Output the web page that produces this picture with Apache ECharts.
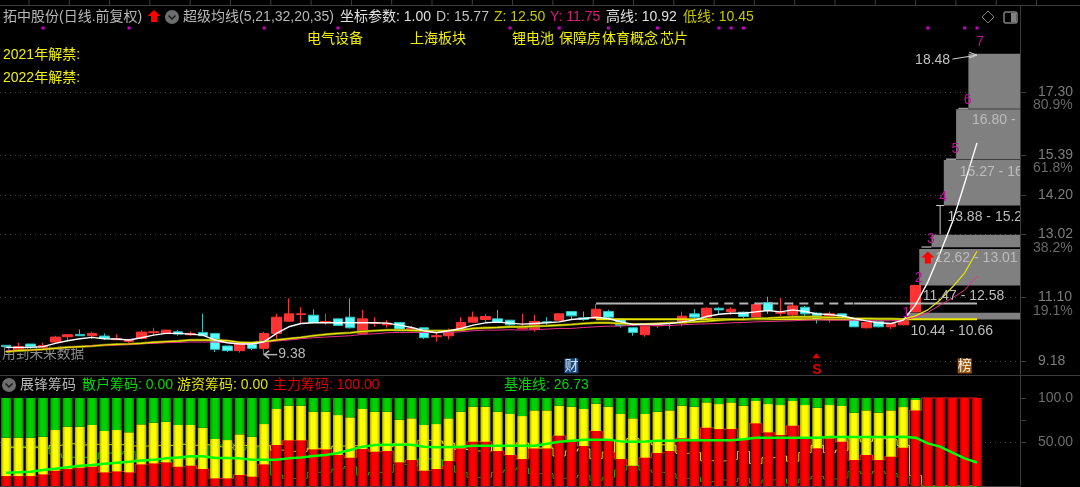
<!DOCTYPE html>
<html>
<head>
<meta charset="utf-8">
<style>
  html, body { margin: 0; padding: 0; background: #000; }
  #chart { width: 1080px; height: 487px; }
</style>
<script src="https://cdn.jsdelivr.net/npm/echarts@6/dist/echarts.min.js"></script>
</head>
<body>
<div id="chart"></div>
<script>
// 83 day slots on the axis, the last 3 are empty
var categories = Array.from({ length: 83 }, function (_, i) { return i; });

// [open, close, low, high]
var candles = [
  [9.66, 9.62, 9.62, 9.66], [9.52, 9.62, 9.52, 9.74], [9.70, 9.62, 9.56, 9.70], [9.60, 9.65, 9.55, 9.74],
  [9.76, 9.91, 9.72, 9.95], [9.92, 9.98, 9.82, 9.98], [9.99, 9.95, 9.95, 10.14], [9.95, 10.02, 9.85, 10.07],
  [9.94, 9.87, 9.82, 10.02], [9.83, 9.86, 9.82, 9.99], [9.78, 9.82, 9.70, 9.84], [9.87, 10.06, 9.84, 10.12],
  [10.04, 10.07, 9.97, 10.19], [10.02, 10.12, 10.02, 10.12], [10.07, 10.00, 9.95, 10.12], [9.98, 10.02, 9.95, 10.08],
  [10.05, 9.95, 9.95, 10.61], [10.02, 9.54, 9.46, 10.02], [9.64, 9.50, 9.46, 9.64], [9.50, 9.70, 9.44, 9.70],
  [9.69, 9.57, 9.52, 9.69], [9.57, 10.02, 9.38, 10.07], [10.02, 10.51, 9.82, 10.61], [10.39, 10.61, 10.37, 11.08],
  [10.59, 10.61, 10.32, 10.81], [10.57, 10.35, 10.35, 10.75], [10.35, 10.38, 10.28, 10.61], [10.46, 10.26, 10.26, 10.46],
  [10.51, 10.19, 10.17, 11.08], [10.02, 10.46, 10.00, 10.73], [10.32, 10.34, 10.22, 10.51], [10.28, 10.33, 10.20, 10.42],
  [10.35, 10.10, 10.10, 10.35], [10.12, 10.17, 10.04, 10.24], [10.19, 9.89, 9.85, 10.19], [9.92, 9.95, 9.77, 10.07],
  [9.95, 10.10, 9.84, 10.17], [10.12, 10.35, 10.10, 10.51], [10.36, 10.51, 10.36, 10.68], [10.44, 10.53, 10.36, 10.61],
  [10.46, 10.36, 10.36, 10.73], [10.42, 10.28, 10.24, 10.42], [10.16, 10.20, 10.14, 10.61], [10.15, 10.38, 10.07, 10.58],
  [10.37, 10.35, 10.27, 10.51], [10.42, 10.61, 10.40, 10.63], [10.68, 10.55, 10.44, 10.68], [10.49, 10.44, 10.40, 10.68],
  [10.47, 10.75, 10.46, 10.91], [10.68, 10.51, 10.44, 10.73], [10.45, 10.26, 10.19, 10.45], [10.19, 10.05, 9.95, 10.19],
  [9.98, 10.24, 9.92, 10.24], [10.25, 10.32, 10.18, 10.32], [10.32, 10.35, 10.15, 10.35], [10.32, 10.54, 10.24, 10.68],
  [10.61, 10.51, 10.40, 10.75], [10.51, 10.78, 10.44, 10.81], [10.78, 10.73, 10.61, 10.81], [10.68, 10.75, 10.58, 10.81],
  [10.66, 10.53, 10.42, 10.68], [10.51, 10.89, 10.42, 10.95], [10.95, 10.71, 10.61, 11.13], [10.63, 10.65, 10.55, 11.08],
  [10.58, 10.85, 10.53, 10.95], [10.81, 10.61, 10.51, 10.85], [10.63, 10.45, 10.32, 10.65], [10.45, 10.61, 10.35, 10.68],
  [10.61, 10.51, 10.47, 10.63], [10.47, 10.22, 10.22, 10.47], [10.19, 10.35, 10.17, 10.35], [10.39, 10.22, 10.20, 10.39],
  [10.22, 10.32, 10.15, 10.33], [10.28, 10.40, 10.26, 10.47], [10.67, 11.47, 10.66, 11.47]
];

var maWhite = [
  9.60, 9.60, 9.60, 9.62, 9.72, 9.80, 9.86, 9.90, 9.86, 9.85, 9.82, 9.89, 9.97, 10.02, 10.02, 10.00,
  9.97, 9.82, 9.74, 9.70, 9.70, 9.77, 10.02, 10.22, 10.32, 10.34, 10.34, 10.34, 10.34, 10.34, 10.34, 10.33,
  10.27, 10.20, 10.10, 10.04, 10.10, 10.17, 10.27, 10.34, 10.36, 10.33, 10.30, 10.32, 10.34, 10.37, 10.44, 10.47,
  10.51, 10.47, 10.37, 10.29, 10.30, 10.30, 10.32, 10.37, 10.42, 10.53, 10.60, 10.63, 10.63, 10.67, 10.71, 10.67,
  10.73, 10.68, 10.61, 10.59, 10.55, 10.47, 10.40, 10.34, 10.32, 10.42, 10.88, 11.57, 12.45, 13.38, 14.56, 15.77
];
var maYellow = [
  9.47, 9.50, 9.52, 9.54, 9.57, 9.60, 9.62, 9.64, 9.67, 9.69, 9.70, 9.72, 9.75, 9.77, 9.79, 9.82,
  9.82, 9.82, 9.80, 9.75, 9.74, 9.77, 9.82, 9.86, 9.90, 9.95, 9.99, 10.02, 10.04, 10.08, 10.10, 10.12,
  10.12, 10.11, 10.10, 10.10, 10.10, 10.12, 10.17, 10.19, 10.20, 10.22, 10.22, 10.24, 10.25, 10.27, 10.29, 10.32,
  10.34, 10.34, 10.32, 10.30, 10.30, 10.32, 10.34, 10.35, 10.37, 10.39, 10.42, 10.44, 10.44, 10.47, 10.48, 10.50,
  10.52, 10.52, 10.52, 10.50, 10.50, 10.47, 10.47, 10.46, 10.46, 10.45, 10.55, 10.73, 11.03, 11.42, 11.85, 12.50
];
var maPink = [
  9.50, 9.50, 9.52, 9.54, 9.57, 9.60, 9.62, 9.65, 9.66, 9.67, 9.69, 9.71, 9.72, 9.74, 9.75, 9.76,
  9.76, 9.76, 9.74, 9.72, 9.71, 9.74, 9.79, 9.82, 9.86, 9.89, 9.91, 9.93, 9.95, 9.99, 10.01, 10.04,
  10.05, 10.05, 10.05, 10.05, 10.04, 10.07, 10.10, 10.12, 10.12, 10.13, 10.12, 10.13, 10.15, 10.17, 10.17, 10.20,
  10.22, 10.24, 10.24, 10.27, 10.27, 10.26, 10.26, 10.28, 10.30, 10.31, 10.32, 10.34, 10.35, 10.37, 10.38, 10.39,
  10.40, 10.42, 10.43, 10.42, 10.42, 10.42, 10.41, 10.40, 10.40, 10.42, 10.51, 10.65, 10.88, 11.09, 11.33, 11.75
];

// high and low level lines, drawn from these day slots to the last day
var highLevel = 10.92;
var lowLevel = 10.45;
var levelFrom = 48;
var levelTo = 79;

// grey forecast blocks: [day slot, low, high]
var blocks = [
  [74, 10.44, 10.66], [75, 11.47, 12.58], [76, 12.62, 13.01],
  [77, 13.88, 15.27], [78, 15.27, 16.80], [79, 16.80, 18.48]
];
// [day slot, price, text]
var blockLabels = [
  [74, 10.10, '10.44 - 10.66'], [75, 11.15, '11.47 - 12.58'], [76, 12.30, '12.62 - 13.01'],
  [77, 13.54, '13.88 - 15.27'], [78, 14.89, '15.27 - 16.80'], [79, 16.46, '16.80 - 18.48']
];
var waveLabels = [
  [73, 10.64, '1'], [74, 11.69, '2'], [75, 12.87, '3'], [76, 14.14, '4'],
  [77, 15.59, '5'], [78, 17.07, '6'], [79, 18.82, '7']
];
var dotSlots = [3, 10, 21, 27, 41, 45, 49, 53, 58, 59, 60, 75, 78, 79];
var dotPrice = 19.24;

var priceTicks = [9.18, 11.10, 13.02, 14.20, 15.39, 17.30];
var percentTicks = [10.70, 12.60, 15.01, 16.92];
var percentLabels = ['19.1%', '38.2%', '61.8%', '80.9%'];

// chip panel, percent
var zhuli = [
  11.3, 11.3, 11.3, 13.2, 17.4, 19.3, 20.8, 21.9, 15.5, 16.6, 15.5, 24.6, 25.7, 26.9, 21.9, 23.1,
  19.3, 8.7, 8.7, 12.5, 10.6, 24.6, 46.6, 51.9, 51.9, 41.6, 41.6, 35.2, 32.2, 42, 39, 39.7,
  26.9, 29.5, 17.4, 19.3, 28.4, 42.8, 50.3, 50.3, 39.7, 35.2, 30.6, 42.8, 42.8, 57.2, 50.3, 45.4,
  62.5, 51.5, 30.6, 23.1, 32.2, 37.5, 39.7, 54.1, 52.2, 66.2, 64.7, 64.7, 52.2, 71.2, 61, 57.9,
  68.5, 54.1, 42.8, 54.1, 50.3, 29.5, 35.2, 29.5, 33.3, 43.5, 85.9, 100, 100, 100, 100, 100
];
var youzi = [
  43.6, 43.6, 43.6, 42.8, 46.2, 48.1, 46.6, 47.4, 47, 47, 45.5, 45.4, 46.2, 46.1, 47.4, 46.2,
  46.9, 44.7, 43.5, 46.2, 45.4, 45.8, 40.9, 39.4, 39.4, 42.8, 42.8, 45.4, 45.8, 45.5, 45.4, 44.7,
  48.4, 47.4, 51.9, 51.1, 48.5, 41.6, 39.8, 39.8, 44.7, 46.6, 48.9, 43.1, 43.1, 34.1, 39.8, 42.1,
  31, 38.6, 51.2, 53.8, 49.6, 46.9, 46.2, 37.2, 37.9, 28.8, 28.4, 30.3, 39.1, 25.4, 32.1, 34.1,
  28.1, 37.9, 46.2, 37.9, 40.6, 53.8, 50.7, 53.8, 52.6, 46.2, 11.8, 0, 0, 0, 0, 0
];
var sanhu = [
  45.1, 45.1, 45.1, 44, 36.4, 32.6, 32.6, 30.7, 37.5, 36.4, 39, 30, 28.1, 27, 30.7, 30.7,
  33.8, 46.6, 47.8, 41.3, 44, 29.6, 12.5, 8.7, 8.7, 15.6, 15.6, 19.4, 22, 12.5, 15.6, 15.6,
  24.7, 23.1, 30.7, 29.6, 23.1, 15.6, 9.9, 9.9, 15.6, 18.2, 20.5, 14.1, 14.1, 8.7, 9.9, 12.5,
  6.5, 9.9, 18.2, 23.1, 18.2, 15.6, 14.1, 8.7, 9.9, 5, 6.9, 5, 8.7, 3.4, 6.9, 8,
  3.4, 8, 11, 8, 9.1, 16.7, 14.1, 16.7, 14.1, 10.3, 2.3, 0, 0, 0, 0, 0
];
var baseLine = [
  15.1, 15.5, 16.2, 18.1, 19.7, 21.2, 23.1, 23.8, 25.3, 26.5, 27.6, 29.1, 29.9, 31.4, 32.5, 33.7,
  33.7, 31.8, 31.8, 31.4, 29.9, 29.9, 29.9, 31.4, 32.5, 34.1, 35.2, 37.5, 40.9, 44.7, 46.5, 46.9,
  46.9, 46.9, 44.7, 43.9, 44.3, 44.7, 45.8, 45.8, 45.8, 45.8, 45.8, 45.8, 48, 50.3, 51.5, 52.6,
  52.6, 52.6, 50.7, 50.3, 50.7, 51.5, 51.5, 51.9, 51.9, 51.9, 51.9, 51.9, 53, 54.9, 54.9, 54.9,
  54.9, 54.9, 54.9, 55.6, 55.6, 55.6, 55.6, 55.6, 55.6, 56, 54.9, 48.4, 44.7, 37.8, 31.4, 26.73
];
var chipTicks = [50, 100];
var chipTickLabels = ['50.00', '100.0'];

var FONT = '"Liberation Sans","Noto Sans CJK SC",sans-serif';

function barFill(edge, mid) {
  return {
    type: 'linear', x: 0, y: 0, x2: 1, y2: 0,
    colorStops: [
      { offset: 0, color: edge }, { offset: 0.3, color: mid },
      { offset: 0.7, color: mid }, { offset: 1, color: edge }
    ]
  };
}

function head(x, y, str, fill, size) {
  return {
    type: 'text', x: x, y: y, silent: true,
    style: { text: str, fill: fill, font: (size || 14) + 'px ' + FONT, verticalAlign: 'middle' }
  };
}

function upArrow(cx, top) {
  return [[cx, top], [cx + 6.5, top + 6], [cx + 3, top + 6], [cx + 3, top + 12], [cx - 3, top + 12], [cx - 3, top + 6], [cx - 6.5, top + 6]];
}

function chevronCircle(cx, cy) {
  return [
    { type: 'circle', silent: true, shape: { cx: cx, cy: cy, r: 7 }, style: { fill: '#6e6e6e' } },
    { type: 'polyline', silent: true, shape: { points: [[cx - 3.5, cy - 1.5], [cx, cy + 2], [cx + 3.5, cy - 1.5]] }, style: { stroke: '#1a1a1a', lineWidth: 1.5, fill: null } }
  ];
}

// ruler along the top edge
function rulerTicks() {
  var ticks = [];
  for (var x = 1036.5; x > 0; x -= 40.3) {
    ticks.push({ type: 'line', silent: true, shape: { x1: x, y1: 0, x2: x, y2: 5 }, style: { stroke: '#3c3c3c', lineWidth: 1 } });
  }
  return ticks;
}

var graphics = [
  { type: 'line', silent: true, shape: { x1: 0, y1: 5.5, x2: 1080, y2: 5.5 }, style: { stroke: '#3c3c3c', lineWidth: 1 } },
  { type: 'line', silent: true, shape: { x1: 1020.5, y1: 5, x2: 1020.5, y2: 20 }, style: { stroke: '#3c3c3c', lineWidth: 1 } },
  { type: 'line', silent: true, shape: { x1: 0, y1: 375.5, x2: 1080, y2: 375.5 }, style: { stroke: '#3c3c3c', lineWidth: 1 } },
  { type: 'line', silent: true, shape: { x1: 0, y1: 486.5, x2: 1020, y2: 486.5 }, style: { stroke: '#3c3c3c', lineWidth: 1 } },
  head(3, 17, '拓中股份(日线.前复权)', '#b8b8b8'),
  { type: 'polygon', silent: true, shape: { points: upArrow(154, 10) }, style: { fill: '#ff0000' } },
  head(183, 17, '超级均线(5,21,32,20,35)', '#b8b8b8'),
  head(340, 17, '坐标参数: 1.00', '#e0e0e0'),
  head(436, 17, 'D: 15.77', '#c0c0c0'),
  head(494, 17, 'Z: 12.50', '#c8c800'),
  head(550, 17, 'Y: 11.75', '#d81e80'),
  head(606, 17, '高线: 10.92', '#e0e0e0'),
  head(683, 17, '低线: 10.45', '#c8c800'),
  head(307, 39, '电气设备', '#f0f000'),
  head(410, 39, '上海板块', '#f0f000'),
  head(512, 39, '锂电池', '#f0f000'),
  head(559, 39, '保障房', '#f0f000'),
  head(602, 39, '体育概念', '#f0f000'),
  head(660, 39, '芯片', '#f0f000'),
  head(3, 55, '2021年解禁:', '#f0f000'),
  head(3, 78, '2022年解禁:', '#f0f000'),
  { type: 'polygon', silent: true, shape: { points: [[988, 11], [994, 17], [988, 23], [982, 17]] }, style: { stroke: '#808080', fill: null, lineWidth: 1 } },
  { type: 'rect', silent: true, shape: { x: 1004, y: 12, width: 13, height: 11, r: 2 }, style: { stroke: '#808080', fill: null, lineWidth: 1.5 } },
  { type: 'rect', silent: true, shape: { x: 1011, y: 13, width: 5, height: 9 }, style: { fill: '#808080' } },
  head(20, 385, '展锋筹码', '#b4b4b4'),
  head(82, 385, '散户筹码: 0.00', '#00d800'),
  head(177, 385, '游资筹码: 0.00', '#e0e000'),
  head(273, 385, '主力筹码: 100.00', '#e00000'),
  head(504, 385, '基准线: 26.73', '#00d800')
].concat(chevronCircle(172, 17), chevronCircle(9, 385), rulerTicks());

function renderBlock(params, api) {
  var slot = api.value(0);
  var top = api.coord([slot, api.value(2)]);
  var bottom = api.coord([slot, api.value(1)]);
  var band = api.size([1, 0])[0];
  var left = top[0] - band * 0.7;
  var children = [{
    type: 'rect',
    shape: { x: left, y: top[1] + 0.5, width: params.coordSys.x + params.coordSys.width - left, height: bottom[1] - top[1] - 0.5 },
    style: { fill: '#808080' }
  }];
  // bottom edge of the taller blocks runs on a little to the left
  if (slot === 76 || slot >= 78) {
    children.push({
      type: 'rect',
      shape: { x: left - 10, y: bottom[1] - 1, width: 10, height: 1.5 },
      style: { fill: '#9a9a9a' }
    });
  }
  return { type: 'group', children: children };
}

function renderBlockLabel(params, api) {
  var p = api.coord([api.value(0), api.value(1)]);
  return {
    type: 'text', x: p[0] - 5, y: p[1],
    style: { text: blockLabels[params.dataIndex][2], fill: '#bcbcbc', font: '14px ' + FONT, verticalAlign: 'middle' }
  };
}

function renderWave(params, api) {
  var p = api.coord([api.value(0), api.value(1)]);
  return {
    type: 'text', x: p[0] + 3, y: p[1],
    style: { text: waveLabels[params.dataIndex][2], fill: '#c0109a', font: '14px ' + FONT, align: 'center', verticalAlign: 'middle' }
  };
}

var notes = [
  { slot: 21, price: 9.38, text: '9.38', dx: 14, fill: '#b8b8b8' },
  { slot: 76, price: 18.27, text: '18.48', dx: -25, fill: '#c0c0c0' },
  { slot: 46, price: 9.04, text: '财', dx: -7, fill: '#d0e0f0', back: '#1c4a80' },
  { slot: 78, price: 9.04, text: '榜', dx: -7, fill: '#f0f0f0', back: '#a05a10' },
  { slot: 66, price: 8.90, text: 'S', dx: -5, fill: '#e00000', bold: true }
];

function renderNote(params, api) {
  var n = notes[params.dataIndex];
  var p = api.coord([n.slot, n.price]);
  var style = {
    text: n.text, fill: n.fill, verticalAlign: 'middle',
    font: (n.bold ? 'bold 14px ' : '14px ') + FONT
  };
  if (n.back) {
    style.backgroundColor = n.back;
    style.padding = [1, 0, 0, 0];
  }
  return { type: 'text', x: p[0] + n.dx, y: p[1], style: style };
}

// leader to the 18.48 top, arrow to the 9.38 low, bracket over the gap, small icons
function renderMarks(params, api) {
  var topA = api.coord([76.8, 18.30]);
  var topB = api.coord([79.3, 18.42]);
  var gapTop = api.coord([76, 13.88]);
  var gapBottom = api.coord([76, 13.02]);
  var up = api.coord([75, 12.31]);
  var low = api.coord([21, 9.38]);
  var money = api.coord([66, 9.30]);
  var stroke = { stroke: '#d0d0d0', lineWidth: 1 };
  var leader = { stroke: '#d0d0d0', fill: null, lineWidth: 1 };
  return {
    type: 'group',
    children: [
      { type: 'line', shape: { x1: topA[0], y1: topA[1], x2: topB[0], y2: topB[1] }, style: stroke },
      { type: 'polyline', shape: { points: [[topB[0] - 8, topB[1] - 3], [topB[0], topB[1]], [topB[0] - 8, topB[1] + 3]] }, style: leader },
      { type: 'line', shape: { x1: gapTop[0], y1: gapTop[1], x2: gapBottom[0], y2: gapBottom[1] }, style: stroke },
      { type: 'line', shape: { x1: gapTop[0] - 4, y1: gapTop[1], x2: gapTop[0] + 4, y2: gapTop[1] }, style: stroke },
      { type: 'line', shape: { x1: low[0], y1: low[1], x2: low[0] + 13, y2: low[1] }, style: { stroke: '#b0b0b0', lineWidth: 1.5 } },
      { type: 'polyline', shape: { points: [[low[0] + 5, low[1] - 4], [low[0], low[1]], [low[0] + 5, low[1] + 4]] }, style: { stroke: '#b0b0b0', fill: null, lineWidth: 1.5 } },
      { type: 'polygon', shape: { points: upArrow(up[0], up[1] - 6) }, style: { fill: '#ff0000' } },
      { type: 'polygon', shape: { points: [[money[0] - 1, money[1] - 4], [money[0] + 3, money[1] + 1], [money[0] - 5, money[1] + 1]] }, style: { fill: '#e00000' } }
    ]
  };
}

function levelSeries(name, level, color, width, dash, from, to) {
  var values = categories.map(function (i) {
    return i >= from && i <= to ? level : null;
  });
  return {
    name: name, type: 'line', data: values, symbol: 'none', z: 6,
    lineStyle: { color: color, width: width, type: dash }
  };
}

function maSeries(name, values, color, width, z) {
  return {
    name: name, type: 'line', data: values, symbol: 'none', z: z,
    lineStyle: { color: color, width: width }
  };
}

function chipLine(name, values, color) {
  return {
    name: name, type: 'line', xAxisIndex: 1, yAxisIndex: 2, data: values,
    symbol: 'none', step: 'middle', z: 1, lineStyle: { color: color, width: 1 }
  };
}

function chipBar(name, values, edge, mid) {
  return {
    name: name, type: 'bar', xAxisIndex: 1, yAxisIndex: 2, stack: 'chip', data: values,
    barWidth: 10, z: 2, itemStyle: { color: barFill(edge, mid) }
  };
}

var chart = echarts.init(document.getElementById('chart'));
chart.setOption({
  animation: false,
  backgroundColor: '#000',
  textStyle: { fontFamily: FONT },
  graphic: graphics,
  grid: [
    { left: 0, top: 20, width: 1020, height: 355 },
    { left: 0, top: 376, width: 1020, height: 110 }
  ],
  xAxis: [
    { type: 'category', gridIndex: 0, data: categories, show: false },
    { type: 'category', gridIndex: 1, data: categories, show: false }
  ],
  yAxis: [
    {
      type: 'value', gridIndex: 0, position: 'right', min: 8.765, max: 19.48,
      splitLine: { show: false },
      axisLine: { show: true, lineStyle: { color: '#3c3c3c' } },
      axisTick: { show: true, length: 6, customValues: priceTicks, lineStyle: { color: '#3c3c3c' } },
      axisLabel: {
        customValues: priceTicks, margin: 18, color: '#7c7c7c', fontSize: 14,
        formatter: function (v) { return v.toFixed(2); }
      }
    },
    {
      type: 'value', gridIndex: 0, position: 'right', min: 8.765, max: 19.48,
      splitLine: { show: false }, axisLine: { show: false }, axisTick: { show: false },
      axisLabel: {
        customValues: percentTicks, margin: 13, color: '#686868', fontSize: 14,
        formatter: function (v) { return percentLabels[percentTicks.indexOf(v)]; }
      }
    },
    {
      type: 'value', gridIndex: 1, position: 'right', min: 0, max: 125,
      splitLine: { show: false },
      axisLine: { show: true, lineStyle: { color: '#3c3c3c' } },
      axisTick: { show: true, length: 6, customValues: [50, 75, 100], lineStyle: { color: '#3c3c3c' } },
      axisLabel: {
        customValues: chipTicks, margin: 18, color: '#6c6c6c', fontSize: 14,
        formatter: function (v) { return chipTickLabels[chipTicks.indexOf(v)]; }
      }
    }
  ],
  series: [
    {
      name: 'blocks', type: 'custom', data: blocks, renderItem: renderBlock, z: 1, clip: false,
      encode: { x: 0, y: [1, 2] }
    },
    {
      name: 'K线', type: 'candlestick', data: candles, barWidth: 10, z: 3,
      itemStyle: { color: '#ff3333', color0: '#55ffff', borderColor: '#ff3333', borderColor0: '#30c0c0', borderWidth: 1 },
      markLine: {
        silent: true, symbol: 'none', z: 0, label: { show: false },
        lineStyle: { color: '#444', type: [1, 4], width: 1 },
        data: priceTicks.map(function (v) { return { yAxis: v }; })
      }
    },
    levelSeries('高线', highLevel, '#b4b4b4', 2, 'solid', levelFrom, 56),
    levelSeries('高线虚', highLevel, '#b4b4b4', 2, [9, 6], 56, 69),
    levelSeries('高线尾', highLevel, '#b4b4b4', 2, 'solid', 69, levelTo),
    levelSeries('低线', lowLevel, '#e6e600', 2, 'solid', levelFrom, levelTo),
    maSeries('MA厚', maYellow.slice(0, 74), '#808000', 2.5, 7),
    maSeries('MA粉', maPink, '#e8308c', 1, 8),
    maSeries('MA黄', maYellow, '#e8e800', 1.2, 9),
    maSeries('MA白', maWhite, '#ffffff', 1.4, 10),
    {
      name: 'dots', type: 'scatter', data: dotSlots.map(function (s) { return [s, dotPrice]; }),
      symbol: 'rect', symbolSize: 3, z: 5, itemStyle: { color: '#ff00ff' }
    },
    {
      name: 'blockLabels', type: 'custom', data: blockLabels.map(function (d) { return [d[0], d[1]]; }),
      renderItem: renderBlockLabel, clip: true, z: 11, encode: { x: 0, y: 1 }
    },
    {
      name: 'waves', type: 'custom', data: waveLabels.map(function (d) { return [d[0], d[1]]; }),
      renderItem: renderWave, z: 12, encode: { x: 0, y: 1 }
    },
    {
      name: 'notes', type: 'custom', data: notes.map(function (n) { return [n.slot, n.price]; }),
      renderItem: renderNote, z: 12, encode: { x: 0, y: 1 }
    },
    {
      name: 'marks', type: 'custom', data: [[76, 13.02]],
      renderItem: renderMarks, z: 12, clip: false, encode: { x: 0, y: 1 }
    },
    {
      name: '未来', type: 'custom', data: [[0, 9.4]], z: 4,
      renderItem: function (params, api) {
        var p = api.coord([0, 9.4]);
        return {
          type: 'text', x: 2, y: p[1],
          style: { text: '用到未来数据', fill: '#8c8c8c', font: '13.7px ' + FONT, verticalAlign: 'middle' }
        };
      },
      encode: { x: 0, y: 1 }
    },
    chipLine('主力线', zhuli, '#ff2020'),
    chipLine('游资线', youzi, '#e6e600'),
    chipLine('散户线', sanhu, '#00c000'),
    chipBar('主力筹码', zhuli, '#b00000', '#ff0000'),
    chipBar('游资筹码', youzi, '#b0b000', '#ffff00'),
    chipBar('散户筹码', sanhu, '#009000', '#00d000'),
    {
      name: '基准线', type: 'line', xAxisIndex: 1, yAxisIndex: 2, data: baseLine,
      symbol: 'none', z: 6, lineStyle: { color: '#00ff00', width: 2.5 },
      markLine: {
        silent: true, symbol: 'none', z: 0, label: { show: false },
        lineStyle: { color: '#444', type: [1, 4], width: 1 },
        data: [{ yAxis: 50 }]
      }
    }
  ]
});
</script>
</body>
</html>
